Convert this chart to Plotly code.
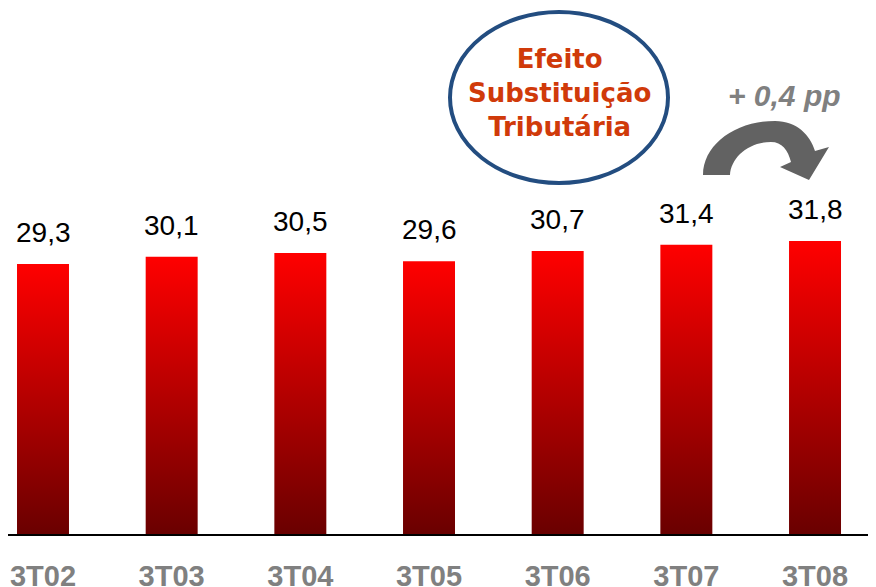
import plotly.graph_objects as go

# margem por trimestre (%)
periods = ['3T02', '3T03', '3T04', '3T05', '3T06', '3T07', '3T08']
margem = [29.3, 30.1, 30.5, 29.6, 30.7, 31.4, 31.8]
labels = [f"{v:.1f}".replace('.', ',') for v in margem]

W, H = 876, 587
OFF = 8     # page body margin shifts the figure
AXIS = 534  # screen y of the baseline
PLOT_H = AXIS - OFF


def px(x, y):
    # screen pixel -> paper coordinates
    return (x - OFF) / W, (AXIS - y) / PLOT_H


def path(pts):
    out = []
    for cmd, coords in pts:
        conv = []
        for i in range(0, len(coords), 2):
            a, b = px(coords[i], coords[i + 1])
            conv.append(f"{a:.5f},{b:.5f}")
        out.append(cmd + ' ' + ' '.join(conv))
    return ' '.join(out) + ' Z'


step = 128.67
first = 43 - OFF
bw = 0.404
fig = go.Figure()
for i, v in enumerate(margem):
    fig.add_trace(go.Scatter(
        x=[i - bw / 2, i + bw / 2, i + bw / 2, i - bw / 2, i - bw / 2],
        y=[0, 0, v, v, 0],
        mode='lines', fill='toself', line=dict(width=0),
        fillgradient=dict(type='vertical',
                          colorscale=[[0, '#6a0000'], [1, '#ff0000']]),
        hoverinfo='skip', showlegend=False))

for i, (v, t) in enumerate(zip(margem, labels)):
    fig.add_annotation(x=i, y=v, text=t, showarrow=False, yanchor='bottom',
                       yshift=14,
                       font=dict(family='Liberation Sans, Arial', size=28, color='black'))

# ellipse callout
x0, y0 = px(450, 183)
x1, y1 = px(668, 12)
fig.add_shape(type='circle', xref='paper', yref='paper', x0=x0, y0=y0, x1=x1, y1=y1,
              line=dict(color='#234d80', width=4), fillcolor='white')
cx, cy = px(559, 93)
fig.add_annotation(xref='paper', yref='paper', x=cx, y=cy, xanchor='center', yanchor='middle',
                   showarrow=False, text='Efeito<br>Substituição<br>Tributária',
                   font=dict(family='DejaVu Sans', size=26, color='#d03a0a', weight='bold'))

# curved arrow
arrow = path([
    ('M', (703, 175)),
    ('C', (703, 145, 735, 121, 775, 121)),
    ('C', (797, 121, 810, 135, 815, 151)),
    ('L', (829, 147)),
    ('L', (809, 180)),
    ('L', (780, 167)),
    ('L', (791, 162)),
    ('C', (788, 150, 782, 142, 771, 142)),
    ('C', (748, 142, 731, 158, 730, 175)),
])
fig.add_shape(type='path', xref='paper', yref='paper', path=arrow,
              fillcolor='#626262', line=dict(width=0))
tx, ty = px(784, 95)
fig.add_annotation(xref='paper', yref='paper', x=tx, y=ty, xanchor='center', yanchor='middle',
                   showarrow=False, text='<b><i>+ 0,4 pp</i></b>',
                   font=dict(family='Liberation Sans, Arial', size=30, color='#808080'))

fig.update_layout(
    width=W, height=H,
    margin=dict(l=0, r=0, t=0, b=H - PLOT_H, pad=0),
    plot_bgcolor='white', paper_bgcolor='white',
    xaxis=dict(range=[-first / step, (W - first) / step],
               tickvals=list(range(len(periods))), ticktext=periods,
               showgrid=False, zeroline=False, showline=True, linecolor='black', linewidth=2,
               ticks='', ticklabelstandoff=15, automargin=False,
               tickfont=dict(family='Liberation Sans, Arial', size=29, color='#808080', weight='bold')),
    yaxis=dict(range=[0, PLOT_H / 9.215], visible=False, automargin=False),
)

fig.write_html("out.html")
